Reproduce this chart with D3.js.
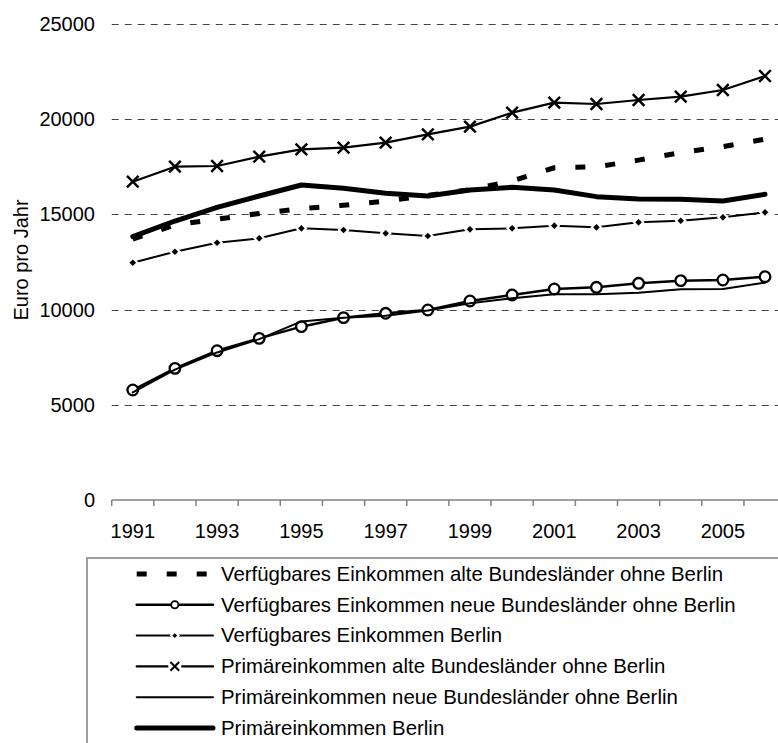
<!DOCTYPE html>
<html>
<head>
<meta charset="utf-8">
<script src="https://cdn.jsdelivr.net/npm/d3@7"></script>
<style>
  html, body { margin: 0; padding: 0; background: #fff; }
  svg { display: block; font-family: Arial, "Liberation Sans", sans-serif; }
</style>
</head>
<body>
<svg id="chart" width="778" height="743"></svg>
<script>
// ---- Data ----
const years = [1991,1992,1993,1994,1995,1996,1997,1998,1999,2000,2001,2002,2003,2004,2005,2006];
const xTickLabels = [1991,1993,1995,1997,1999,2001,2003,2005];
const yTicks = [0,5000,10000,15000,20000,25000];

const verfAlte    = [13700,14450,14750,15050,15300,15480,15700,16000,16300,16750,17450,17500,17850,18250,18560,18950];
const verfNeue    = [5777,6915,7842,8491,9104,9577,9805,9979,10452,10767,11082,11170,11380,11520,11554,11728];
const verfBerlin  = [12463,13041,13513,13743,14268,14180,14005,13865,14215,14268,14408,14320,14583,14670,14845,15108];
const primAlte    = [16718,17506,17542,18031,18418,18504,18767,19205,19608,20343,20868,20798,21008,21183,21534,22269];
const primNeue    = [5650,6850,7750,8450,9380,9570,9680,9950,10329,10592,10802,10802,10889,11065,11082,11415];
const primBerlin  = [13829,14653,15370,15966,16544,16370,16107,15966,16282,16421,16282,15932,15808,15790,15703,16055];

const seriesNames = [
  "Verfügbares Einkommen alte Bundesländer ohne Berlin",
  "Verfügbares Einkommen neue Bundesländer ohne Berlin",
  "Verfügbares Einkommen Berlin",
  "Primäreinkommen alte Bundesländer ohne Berlin",
  "Primäreinkommen neue Bundesländer ohne Berlin",
  "Primäreinkommen Berlin"
];
const yTitle = "Euro pro Jahr";

// ---- Styles ----
const styles = [
  {width: 5,   dash: "10,20", marker: null},
  {width: 2.5, dash: null,    marker: "circle"},
  {width: 2,   dash: null,    marker: "diamond"},
  {width: 2.2, dash: null,    marker: "x"},
  {width: 2,   dash: null,    marker: null},
  {width: 5,   dash: null,    marker: null}
];
const seriesValues = [verfAlte, verfNeue, verfBerlin, primAlte, primNeue, primBerlin];

const svg = d3.select("#chart");

const x = d3.scaleBand().domain(years).range([111.7, 111.7 + 16 * 42.15]).paddingInner(0).paddingOuter(0);
const y = d3.scaleLinear().domain([0, 25000]).range([500, 24]);
const cx = d => x(d) + x.bandwidth() / 2;

// Gridlines
svg.append("g").selectAll("line").data(yTicks.filter(v => v > 0)).join("line")
  .attr("x1", 111.7).attr("x2", 800)
  .attr("y1", d => Math.round(y(d)) + 0.5).attr("y2", d => Math.round(y(d)) + 0.5)
  .attr("stroke", "#444").attr("stroke-width", 1).attr("stroke-dasharray", "7,6");

// Y tick labels (no axis line)
svg.append("g").selectAll("text").data(yTicks).join("text")
  .attr("x", 95).attr("y", d => y(d) + 7)
  .attr("text-anchor", "end").attr("font-size", 20).attr("fill", "#000")
  .text(d => d);

// X axis
const xAxisG = svg.append("g");
xAxisG.append("line").attr("x1", 111.7).attr("x2", 800).attr("y1", 500).attr("y2", 500)
  .attr("stroke", "#808080").attr("stroke-width", 1.5);
const boundaries = years.map(d => x(d)).concat([x(years[years.length-1]) + x.bandwidth()]);
xAxisG.selectAll("line.tick").data(boundaries).join("line").attr("class", "tick")
  .attr("x1", d => d).attr("x2", d => d).attr("y1", 500).attr("y2", 506)
  .attr("stroke", "#808080").attr("stroke-width", 1.5);
xAxisG.selectAll("text").data(xTickLabels).join("text")
  .attr("x", d => cx(d)).attr("y", 537.5)
  .attr("text-anchor", "middle").attr("font-size", 20).attr("fill", "#000")
  .text(d => d);

// Y title
svg.append("text")
  .attr("transform", "translate(28,260) rotate(-90)")
  .attr("text-anchor", "middle").attr("font-size", 20).attr("fill", "#000")
  .text(yTitle);

// Marker drawing
function drawMarker(g, type, px, py) {
  if (type === "circle") {
    g.append("circle").attr("cx", px).attr("cy", py).attr("r", 5.3)
      .attr("fill", "#fff").attr("stroke", "#000").attr("stroke-width", 2.3);
  } else if (type === "diamond") {
    const s = 3.3;
    g.append("path").attr("d", `M${px},${py-s}L${px+s},${py}L${px},${py+s}L${px-s},${py}Z`)
      .attr("fill", "#000").attr("stroke", "#fff").attr("stroke-width", 4)
      .attr("paint-order", "stroke");
  } else if (type === "x") {
    const s = 5.8;
    g.append("path").attr("d", `M${px-s},${py-s}L${px+s},${py+s}M${px-s},${py+s}L${px+s},${py-s}`)
      .attr("stroke", "#000").attr("stroke-width", 2.5).attr("fill", "none");
  }
}

// Series
const line = d3.line().x((d, i) => cx(years[i])).y(d => y(d));
seriesValues.forEach((vals, si) => {
  const st = styles[si];
  const g = svg.append("g");
  g.append("path").attr("d", line(vals))
    .attr("fill", "none").attr("stroke", "#000").attr("stroke-width", st.width)
    .attr("stroke-linejoin", "round")
    .attr("stroke-linecap", st.dash ? "butt" : "round")
    .attr("stroke-dasharray", st.dash);
  if (st.marker) vals.forEach((v, i) => drawMarker(g, st.marker, cx(years[i]), y(v)));
});

// Legend
const lg = svg.append("g");
lg.append("rect").attr("x", 87).attr("y", 558).attr("width", 800).attr("height", 300)
  .attr("fill", "#fff").attr("stroke", "#808080").attr("stroke-width", 1.5);
seriesNames.forEach((name, i) => {
  const capC = 573.5 + i * 30.8;
  const ly = capC + 0.5;
  const st = styles[i];
  lg.append("line").attr("x1", 136.7).attr("x2", st.dash ? 210 : 213).attr("y1", ly).attr("y2", ly)
    .attr("stroke", "#000").attr("stroke-width", st.width).attr("stroke-dasharray", st.dash)
    .attr("stroke-linecap", st.dash ? "butt" : "round");
  if (st.marker) {
    if (st.marker === "circle") {
      lg.append("circle").attr("cx", 174.8).attr("cy", ly).attr("r", 3.6)
        .attr("fill", "#fff").attr("stroke", "#000").attr("stroke-width", 1.8);
    } else if (st.marker === "diamond") {
      const s = 2.4, px = 174.8;
      lg.append("path").attr("d", `M${px},${ly-s}L${px+s},${ly}L${px},${ly+s}L${px-s},${ly}Z`)
        .attr("fill", "#000").attr("stroke", "#fff").attr("stroke-width", 4).attr("paint-order", "stroke");
    } else if (st.marker === "x") {
      const s = 4.4, px = 174.8;
      lg.append("rect").attr("x", px - 6.5).attr("y", ly - 3).attr("width", 13).attr("height", 6).attr("fill", "#fff");
      lg.append("path").attr("d", `M${px-s},${ly-s}L${px+s},${ly+s}M${px-s},${ly+s}L${px+s},${ly-s}`)
        .attr("stroke", "#000").attr("stroke-width", 2).attr("fill", "none");
    }
  }
  lg.append("text").attr("x", 221).attr("y", capC + 7.2)
    .attr("font-size", 20.4).attr("fill", "#000").text(name);
});
</script>
</body>
</html>
